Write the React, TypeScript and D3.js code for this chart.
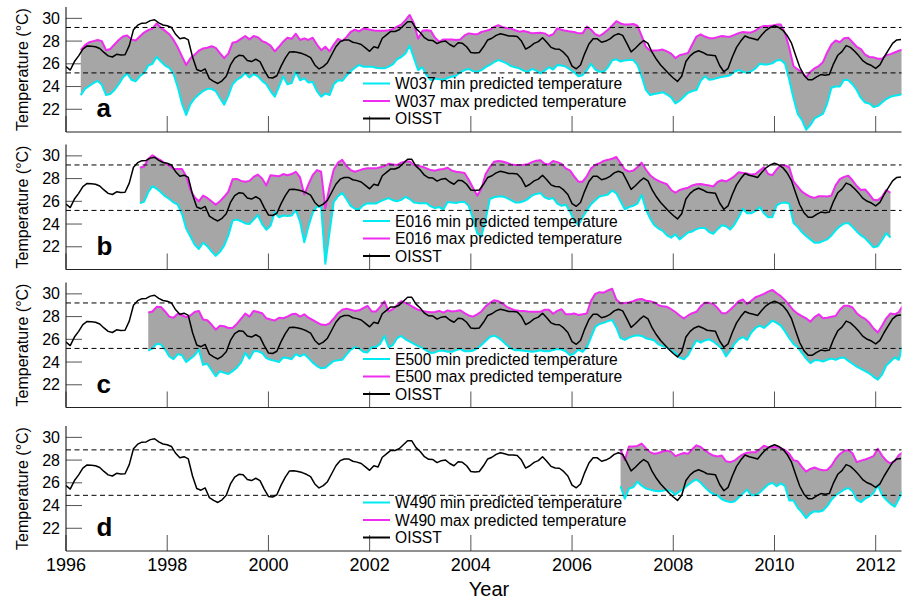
import * as d3 from 'd3';
import React from 'react';

// monthly OISST, Jan 1996 .. Jul 2012 (month index 0..198)
const oisst = [
  25.76, 25.45, 26.2, 26.7, 27.3, 27.57, 27.55, 27.5, 27.35, 27.0, 26.7, 26.6,
  26.84, 26.78, 26.8, 27.6, 29.0, 29.4, 29.58, 29.6, 29.8, 29.88, 29.6, 29.42,
  29.35, 29.2, 28.6, 28.2, 28.3, 28.1, 26.6, 25.5, 25.35, 25.55, 24.7, 24.45,
  24.27, 24.5, 24.9, 25.9, 26.5, 26.75, 26.7, 26.3, 26.2, 26.4, 26.2, 25.45,
  24.8, 24.75, 24.95, 25.8, 26.5, 27.05, 27.07, 27.0, 26.9, 26.75, 26.55, 25.9,
  25.55, 25.75, 26.1, 26.8, 27.5, 27.95, 28.1, 28.1, 27.9, 27.82, 27.7, 27.4,
  27.1, 27.5, 27.4, 28.25, 28.55, 28.85, 28.85, 29.0, 29.35, 29.7, 29.7, 29.1,
  28.75, 28.3, 28.07, 28.05, 27.78, 27.95, 28.0, 27.7, 27.5, 27.85, 27.8, 27.5,
  27.0, 26.95, 27.0, 27.5, 28.1, 28.25, 28.5, 28.65, 28.55, 28.45, 28.45, 28.4,
  28.0, 27.3, 27.5, 27.8, 27.95, 28.3, 27.9, 27.45, 27.3, 27.28, 27.0, 26.6,
  25.8, 25.56, 25.9, 26.9, 27.75, 28.2, 28.2, 27.9, 28.0, 28.2, 28.5, 28.65,
  28.5, 27.8, 27.05, 27.37, 27.75, 28.05, 27.8, 27.0, 26.4, 25.9, 25.5, 25.1,
  24.75, 24.45, 24.9, 26.2, 26.7, 27.0, 27.15, 27.0, 26.8, 26.75, 26.7, 25.85,
  25.3, 25.6, 26.6, 27.45, 28.0, 28.45, 28.3, 28.2, 28.1, 28.55, 28.95, 29.2,
  29.35, 29.2, 28.95, 28.5, 27.85, 26.75, 25.7, 25.0, 24.6, 24.6, 24.85, 25.05,
  25.0, 25.05, 26.0, 26.75, 27.07, 27.6, 27.45, 27.1, 26.7, 26.25, 26.0, 25.85,
  25.6, 25.9, 26.6, 27.2, 27.8, 28.1, 28.15,
];

// W037, from month 3.5
const w037Max = [
  27.2, 27.65, 27.9, 28.0, 28.1, 28.0, 27.2, 27.3, 27.7, 28.1, 28.4, 28.5,
  28.15, 28.05, 28.4, 28.75, 28.97, 29.1, 29.55, 29.2, 28.9, 28.6, 28.1, 27.45,
  26.65, 25.9, 26.48, 26.8, 27.15, 27.35, 27.42, 27.55, 27.4, 26.95, 26.5, 26.9,
  27.86, 27.95, 28.2, 28.45, 28.15, 28.45, 28.33, 28.0, 27.85, 27.6, 27.1, 27.5,
  27.95, 28.3, 28.2, 28.65, 28.1, 28.24, 28.1, 28.3, 27.7, 27.2, 27.5, 27.1,
  27.7, 28.2, 28.0, 28.35, 28.8, 29.0, 28.85, 29.1, 29.05, 28.97, 28.9, 28.9,
  28.9, 28.95, 29.05, 29.27, 29.45, 29.85, 30.3, 29.56, 28.2, 28.9, 28.95, 28.9,
  28.3, 27.95, 28.15, 28.15, 28.15, 28.1, 28.15, 28.5, 28.68, 28.62, 28.6, 28.8,
  28.9, 29.0, 29.25, 29.4, 29.22, 29.15, 29.1, 28.95, 28.83, 28.88, 28.8, 28.68,
  28.72, 28.74, 28.68, 28.45, 28.6, 29.12, 29.0, 28.9, 28.85, 28.8, 28.68, 28.68,
  29.27, 29.0, 28.6, 28.45, 28.68, 29.0, 29.35, 29.75, 29.55, 29.45, 29.45, 29.5,
  29.35, 28.45, 27.5, 27.15, 27.18, 27.2, 27.25, 27.1, 26.9, 26.5, 26.75, 26.85,
  26.95, 27.7, 28.4, 28.6, 28.4, 28.26, 28.25, 28.35, 28.45, 28.4, 28.39, 28.55,
  28.7, 28.8, 28.76, 28.76, 28.92, 29.2, 29.33, 29.33, 29.38, 29.45, 29.45, 28.7,
  27.4, 25.8, 25.5, 25.3, 24.8, 25.3, 25.6, 25.8, 26.15, 27.0, 27.7, 28.05,
  27.9, 28.25, 28.3, 27.9, 27.5, 27.3, 26.8, 26.6, 26.57, 26.45, 26.45, 26.75,
  26.85, 27.0, 27.15, 27.27,
];
const w037Min = [
  23.25, 23.8, 24.05, 24.3, 24.5, 24.15, 23.25, 23.34, 23.7, 24.2, 24.8, 25.15,
  24.6, 24.45, 24.9, 25.2, 25.85, 26.0, 26.6, 26.2, 25.85, 25.65, 25.1, 23.95,
  22.5, 21.5, 22.45, 22.96, 23.3, 23.6, 23.8, 23.8, 23.6, 23.0, 22.4, 23.2,
  24.2, 24.6, 24.8, 25.2, 24.8, 25.1, 24.9, 24.5, 24.2, 23.6, 23.1, 24.0,
  24.9, 24.2, 24.3, 25.3, 24.55, 24.72, 24.35, 24.4, 23.6, 23.1, 23.4, 23.25,
  24.2, 24.55, 24.5, 24.95, 25.35, 25.65, 25.9, 25.75, 25.75, 25.75, 25.65, 25.6,
  25.6, 25.75, 25.95, 26.4, 26.6, 26.9, 27.6, 26.5, 25.45, 25.7, 25.0, 24.57,
  24.7, 24.65, 24.6, 24.75, 24.87, 24.95, 25.25, 25.45, 25.55, 25.35, 25.3, 25.45,
  25.7, 25.9, 26.15, 26.33, 26.2, 26.04, 25.8, 25.7, 25.6, 25.4, 25.3, 25.55,
  25.4, 25.16, 25.4, 25.7, 25.5, 25.9, 25.85, 25.75, 25.5, 25.25, 24.9, 25.0,
  25.45, 26.0, 25.5, 25.3, 25.3, 25.7, 26.3, 26.4, 26.2, 26.3, 26.33, 26.33,
  25.9, 24.9, 23.7, 23.25, 23.35, 23.4, 23.5, 23.3, 23.05, 22.52, 22.75, 23.1,
  23.45, 23.6, 23.7, 24.5, 24.9, 24.6, 24.65, 24.75, 24.85, 24.9, 25.0, 25.3,
  25.45, 25.3, 25.2, 25.35, 25.6, 26.0, 25.95, 25.95, 26.04, 26.3, 26.33, 26.0,
  24.6, 23.0, 21.6, 21.06, 20.2, 20.6, 21.2, 21.4, 21.6, 22.5, 23.9, 24.0,
  24.0, 24.6, 24.55, 24.2, 23.7, 23.0, 22.6, 22.5, 22.2, 22.3, 22.6, 22.9,
  23.1, 23.2, 23.25, 23.34,
];

// E016, from month 17.5
const e016Max = [
  28.98, 29.05, 29.75, 30.05, 29.8, 29.6, 29.35, 29.15, 28.85, 28.84, 28.84, 28.2,
  27.0, 26.35, 26.0, 26.5, 26.3, 26.0, 25.7, 26.0, 26.4, 26.85, 27.94, 27.97,
  27.8, 27.73, 27.8, 28.15, 28.35, 28.0, 27.4, 28.3, 28.25, 28.2, 28.4, 28.3,
  28.4, 28.6, 28.1, 26.6, 27.5, 28.3, 28.75, 28.6, 25.4, 27.3, 28.8, 29.4,
  29.65, 29.1, 28.75, 28.6, 28.72, 28.85, 28.9, 28.9, 28.9, 29.0, 29.1, 29.3,
  29.25, 29.19, 29.4, 29.5, 29.5, 29.2, 29.1, 29.05, 28.9, 28.75, 28.7, 28.8,
  28.85, 28.95, 28.7, 28.6, 28.55, 28.5, 27.9, 27.2, 26.5, 27.1, 28.4, 29.0,
  29.48, 29.55, 29.5, 29.4, 29.25, 29.19, 29.19, 29.22, 29.27, 29.45, 29.58, 29.62,
  29.3, 29.25, 29.55, 29.45, 29.3, 28.9, 28.72, 28.2, 27.73, 27.73, 28.2, 28.9,
  29.2, 29.35, 29.56, 29.65, 29.75, 29.9, 29.35, 28.8, 28.62, 28.7, 29.0, 29.4,
  28.8, 28.3, 28.0, 27.8, 27.65, 27.5, 27.0, 26.75, 27.0, 27.1, 27.2, 27.4,
  27.5, 27.53, 27.45, 27.4, 27.3, 27.7, 27.85, 27.75, 27.95, 28.2, 28.55, 28.5,
  28.45, 28.35, 28.4, 28.7, 29.0, 28.4, 28.3, 28.8, 29.19, 29.15, 29.0, 27.75,
  27.3, 26.85, 26.6, 26.4, 26.3, 26.45, 26.45, 26.42, 26.5, 27.4, 27.95, 28.15,
  28.25, 27.85, 27.35, 27.0, 27.05, 26.6, 26.13, 26.1, 26.4, 27.0, 26.75,
];
const e016Min = [
  25.84, 25.95, 26.8, 27.35, 27.1, 26.8, 26.45, 26.2, 25.9, 25.7, 24.9, 23.6,
  22.9, 22.2, 21.8, 22.35, 22.05, 21.6, 21.2, 21.55, 22.1, 23.0, 24.3, 24.39,
  24.25, 24.05, 24.0, 24.39, 24.8, 24.0, 23.5, 23.85, 25.05, 24.6, 24.75, 24.7,
  24.75, 25.2, 24.2, 22.4, 23.8, 25.0, 25.55, 25.5, 20.5, 23.3, 25.95, 26.45,
  26.75, 26.2, 25.6, 25.35, 25.3, 25.65, 25.84, 25.8, 25.8, 26.0, 26.15, 26.28,
  26.1, 26.0, 26.13, 26.4, 26.2, 25.9, 25.84, 25.84, 25.84, 25.55, 25.4, 25.5,
  25.3, 25.95, 25.9, 25.86, 25.95, 25.95, 25.6, 24.5, 23.2, 22.9, 24.4, 26.2,
  26.35, 26.42, 26.42, 26.3, 26.1, 25.9, 25.9, 26.0, 26.2, 26.5, 26.65, 26.72,
  26.35, 26.2, 26.28, 25.8, 25.6, 25.7, 25.1, 24.3, 23.9, 24.6, 25.2, 25.75,
  26.1, 26.42, 26.5, 26.6, 26.95, 26.7, 26.0, 25.3, 25.5, 25.6, 25.8, 26.55,
  25.3, 24.5, 23.9, 23.6, 23.4, 23.0, 22.8, 23.1, 22.65, 22.95, 23.25, 23.35,
  23.55, 23.66, 23.66, 23.3, 23.15, 23.55, 23.9, 23.8, 23.52, 23.95, 24.6, 25.35,
  24.95, 24.95, 25.15, 25.5, 24.95, 24.6, 24.6, 25.65, 25.84, 25.9, 25.8, 24.1,
  23.75, 23.3, 22.95, 22.65, 22.35, 22.35, 22.5, 22.65, 23.0, 23.45, 23.8, 24.05,
  24.1, 23.75, 23.35, 23.0, 22.75, 22.35, 21.95, 22.05, 22.6, 23.2, 22.8,
];

// E500, from month 19.5
const e500Max = [
  28.36, 28.45, 28.86, 28.85, 28.45, 28.0, 27.9, 28.25, 28.12, 27.95, 28.1, 28.4,
  28.5, 27.74, 27.68, 27.3, 26.85, 27.2, 27.15, 27.0, 27.0, 27.35, 27.8, 28.27,
  28.0, 28.5, 28.4, 28.3, 27.85, 27.75, 27.65, 27.9, 27.85, 28.0, 28.2, 28.25,
  28.0, 28.2, 27.9, 27.7, 27.5, 27.3, 27.25, 27.4, 27.83, 28.3, 28.6, 28.7,
  28.6, 28.5, 28.55, 28.75, 28.95, 28.45, 28.45, 28.85, 29.35, 28.45, 28.65, 29.0,
  29.35, 29.2, 29.0, 28.8, 28.6, 28.5, 28.42, 28.38, 28.4, 28.5, 28.35, 28.55,
  28.45, 28.5, 28.56, 28.3, 28.1, 28.0, 28.2, 28.45, 28.9, 29.2, 29.44, 29.35,
  29.15, 28.86, 28.7, 28.55, 28.52, 28.5, 28.45, 28.43, 28.42, 28.42, 28.6, 28.6,
  28.25, 28.5, 28.65, 28.2, 28.2, 28.27, 28.15, 28.2, 28.27, 29.4, 30.0, 30.15,
  30.1, 30.3, 30.45, 29.5, 29.15, 29.2, 29.25, 29.35, 29.5, 29.55, 29.4, 29.35,
  29.25, 29.0, 28.9, 28.86, 28.65, 28.4, 28.1, 27.83, 28.1, 28.3, 28.42, 28.9,
  29.21, 29.21, 29.1, 28.75, 28.3, 28.3, 28.6, 28.95, 29.35, 29.5, 29.1, 29.4,
  29.7, 29.85, 30.0, 30.2, 30.35, 30.05, 29.8, 29.45, 29.0, 28.55, 28.25, 28.05,
  27.85, 27.55, 27.95, 28.2, 27.85, 27.9, 27.98, 28.05, 28.6, 28.95, 28.95, 28.8,
  28.3, 28.0, 27.8, 27.45, 26.95, 26.6, 27.2, 27.85, 28.27, 28.2, 28.4, 29.0,
];
const e500Min = [
  25.0, 25.2, 25.6, 25.55, 25.1, 24.5, 24.25, 24.7, 24.6, 24.0, 24.3, 24.6,
  25.1, 23.75, 23.85, 23.3, 22.75, 23.2, 23.05, 22.95, 23.2, 23.5, 23.95, 24.8,
  24.3, 24.95, 24.95, 24.8, 24.35, 24.2, 24.1, 24.0, 24.4, 24.35, 24.25, 24.69,
  24.5, 24.69, 24.35, 23.95, 23.65, 23.45, 23.5, 23.8, 24.1, 24.16, 24.2, 24.65,
  25.1, 25.3, 25.2, 24.9, 24.85, 25.3, 25.34, 25.6, 26.3, 25.3, 25.5, 26.1,
  26.3, 26.0, 25.8, 25.6, 25.4, 25.25, 25.0, 24.8, 24.85, 25.0, 25.0, 24.9,
  24.9, 25.05, 25.15, 24.95, 24.95, 25.0, 25.2, 25.5, 25.85, 26.2, 26.33, 26.15,
  25.85, 25.5, 25.2, 25.04, 25.04, 25.0, 24.95, 24.9, 24.95, 25.04, 24.95, 24.95,
  25.05, 25.15, 25.1, 24.95, 24.6, 24.75, 25.1, 24.9, 25.3, 26.2, 27.1, 27.35,
  27.45, 27.6, 27.7, 27.05, 26.1, 25.95, 26.15, 26.28, 26.35, 26.3, 26.1, 26.0,
  25.9, 25.55, 25.4, 25.3, 25.0, 24.8, 24.4, 24.25, 24.6, 25.3, 25.9, 25.7,
  25.9, 26.0, 25.8, 25.5, 25.2, 24.5, 25.0, 25.6, 26.0, 26.2, 25.95, 26.6,
  27.0, 27.2, 27.0, 27.3, 27.65, 27.45, 27.2, 26.7, 26.1, 25.6, 25.3, 24.8,
  24.3, 23.9, 24.15, 24.15, 24.05, 24.2, 24.3, 24.2, 24.35, 24.4, 24.1, 23.85,
  23.6, 23.4, 23.2, 23.0, 22.7, 22.45, 22.9, 23.7, 24.05, 24.4, 24.2, 25.6,
];

// W490, from month 131.5
const w490Max = [
  28.95, 28.0, 29.2, 29.2, 29.25, 29.45, 29.05, 28.7, 28.55, 28.62, 28.75, 28.83,
  28.72, 28.35, 28.5, 28.62, 28.55, 28.95, 29.3, 29.15, 28.85, 28.6, 28.4, 28.32,
  28.4, 27.9, 27.82, 27.95, 28.25, 28.5, 28.65, 28.68, 28.68, 28.95, 29.27, 29.12,
  29.15, 29.12, 29.05, 28.88, 28.55, 28.0, 27.9, 27.4, 26.98, 27.22, 27.35, 27.2,
  27.1, 27.13, 27.5, 28.1, 28.54, 28.8, 28.88, 28.6, 27.82, 27.95, 28.05, 28.2,
  28.35, 29.0, 28.4, 27.95, 27.7, 27.9, 28.45, 28.7,
];
const w490Min = [
  25.7, 24.6, 25.5, 25.6, 26.1, 25.75, 25.5, 25.4, 25.3, 25.25, 25.3, 25.4,
  25.25, 24.95, 25.25, 25.5, 25.8, 26.1, 26.3, 26.0, 25.6, 25.25, 25.0, 24.9,
  24.55, 24.4, 24.3, 24.35, 24.7, 25.05, 25.4, 24.9, 24.9, 25.15, 25.5, 25.85,
  26.0, 25.7, 25.95, 25.7, 24.44, 24.44, 23.8, 23.4, 22.9, 23.3, 23.5, 23.45,
  23.57, 23.95, 24.5, 24.9, 25.15, 25.4, 25.55, 25.25, 24.5, 24.3, 24.6, 24.8,
  25.1, 25.8, 24.95, 24.5, 24.15, 23.9, 24.6, 25.4,
];

const sites = ['W037', 'E016', 'E500', 'W490'];
const letters = ['a', 'b', 'c', 'd'];
const starts = [3.5, 17.5, 19.5, 131.5];
const maxSeries = [w037Max, e016Max, e500Max, w490Max];
const minSeries = [w037Min, e016Min, e500Min, w490Min];
const upperRef = [29.2, 29.2, 29.2, 28.9];
const lowerRef = [25.2, 25.2, 25.2, 24.9];
const yTicks = [22, 24, 26, 28, 30];
const yearTicks = [1996, 1998, 2000, 2002, 2004, 2006, 2008, 2010, 2012];

const FONT = '"Liberation Sans", Arial, Helvetica, sans-serif';
const CYAN = '#00eaf2';
const MAGENTA = '#f02cf0';
const BAND = '#a6a6a6';

const left = 66;
const right = 901.5;
const tops = [7, 144.5, 282.5, 426];
const panelH = 125;

// months since Jan 1996
const x = d3.scaleLinear().domain([0, 198]).range([left, 901]);

function Panel({ i }: { i: number }) {
  const top = tops[i];
  const bottom = top + panelH;
  const y = d3.scaleLinear().domain([20, 31]).range([bottom, top]);
  const start = starts[i];
  const mx = maxSeries[i];
  const mn = minSeries[i];

  const area = d3.area<number>()
    .x((_, j) => x(start + j))
    .y0((_, j) => y(mn[j]))
    .y1(d => y(d));
  const edge = d3.line<number>().x((_, j) => x(start + j)).y(d => y(d));
  const obs = d3.line<number>().x((_, j) => x(j)).y(d => y(d));

  const clipId = `clip-${i}`;
  const legend = [
    { label: `${sites[i]} min predicted temperature`, color: CYAN, dy: -48.5 },
    { label: `${sites[i]} max predicted temperature`, color: MAGENTA, dy: -31 },
    { label: 'OISST', color: '#000', dy: -13.5 },
  ];

  return (
    <g>
      <defs>
        <clipPath id={clipId}>
          <rect x={left} y={top - 5} width={right - left} height={panelH + 5} />
        </clipPath>
      </defs>

      {/* ticks first, so the data sits on them */}
      {yTicks.map(t => (
        <g key={t}>
          <line x1={left} x2={left + 16} y1={y(t)} y2={y(t)} stroke="#555" strokeWidth={1} />
          <text x={60} y={y(t) + 5.5} textAnchor="end" fontSize={16} fontFamily={FONT}>{t}</text>
        </g>
      ))}
      {yearTicks.map(t => (
        <line key={t} x1={x((t - 1996) * 12)} x2={x((t - 1996) * 12)} y1={bottom} y2={bottom - 16}
          stroke="#555" strokeWidth={1} />
      ))}

      <g clipPath={`url(#${clipId})`}>
        <path d={area(mx) ?? ''} fill={BAND} />
        <path d={edge(mn) ?? ''} fill="none" stroke={CYAN} strokeWidth={2} strokeLinejoin="round" />
        <path d={edge(mx) ?? ''} fill="none" stroke={MAGENTA} strokeWidth={2} strokeLinejoin="round" />
        <path d={obs(oisst) ?? ''} fill="none" stroke="#000" strokeWidth={1.5} strokeLinejoin="round" />
      </g>

      {[upperRef[i], lowerRef[i]].map(v => (
        <line key={v} x1={left} x2={right} y1={y(v)} y2={y(v)} stroke="#000" strokeWidth={1}
          strokeDasharray="5,3.5" />
      ))}

      <line x1={left} x2={left} y1={top} y2={bottom} stroke="#000" strokeWidth={1} />
      <line x1={left} x2={right} y1={bottom} y2={bottom} stroke="#222" strokeWidth={1} />

      <text x={96.5} y={bottom - 15} fontSize={26} fontWeight="bold" fontFamily={FONT}>{letters[i]}</text>

      {legend.map(l => (
        <g key={l.label}>
          <line x1={363} x2={390} y1={bottom + l.dy} y2={bottom + l.dy} stroke={l.color} strokeWidth={2} />
          <text x={395} y={bottom + l.dy + 5.6} fontSize={15.6} fontFamily={FONT}>{l.label}</text>
        </g>
      ))}

      <text transform={`translate(28,${(top + bottom) / 2}) rotate(-90)`} textAnchor="middle"
        fontSize={16} fontFamily={FONT}>Temperature (°C)</text>
    </g>
  );
}

export default function App() {
  return (
    <svg width={904} height={600} style={{ position: 'absolute', left: 0, top: 0, background: '#fff' }}>
      <rect width={904} height={600} fill="#fff" />
      {tops.map((_, i) => <Panel key={i} i={i} />)}
      {yearTicks.map(t => (
        <text key={t} x={x((t - 1996) * 12)} y={571} textAnchor="middle" fontSize={18} fontFamily={FONT}>{t}</text>
      ))}
      <text x={489} y={596} textAnchor="middle" fontSize={20} fontFamily={FONT}>Year</text>
    </svg>
  );
}
